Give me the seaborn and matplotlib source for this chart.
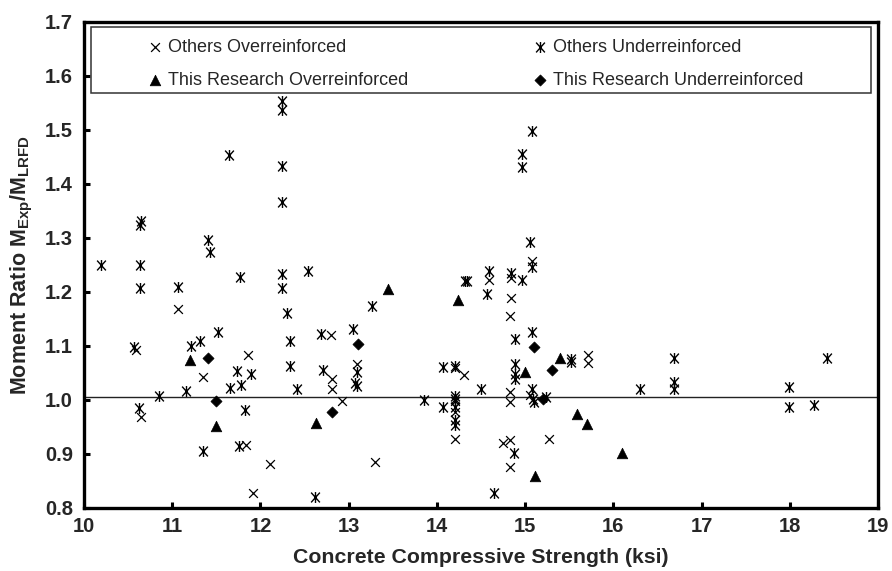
import matplotlib
matplotlib.use("Agg")
import matplotlib.pyplot as plt
import seaborn as sns
import pandas as pd
from matplotlib.path import Path
from matplotlib.patches import Rectangle

# ---------------- data ----------------
others_over_x = [11.06, 10.59, 11.86, 12.80, 13.09, 11.35, 12.81, 12.81, 12.93, 10.65,
                 11.84, 12.11, 13.30, 11.92, 14.31, 14.59, 14.84, 14.84, 14.83, 15.71,
                 15.71, 14.21, 14.83, 14.83, 15.06, 14.21, 14.21, 14.21, 15.27, 14.75,
                 14.83, 14.83, 15.08]
others_over_y = [1.167, 1.092, 1.083, 1.120, 1.066, 1.042, 1.038, 1.019, 0.997, 0.967,
                 0.916, 0.880, 0.884, 0.828, 1.046, 1.222, 1.226, 1.189, 1.155, 1.083,
                 1.068, 1.058, 1.015, 0.996, 1.008, 0.997, 0.977, 0.927, 0.928, 0.920,
                 0.926, 0.876, 1.257]

others_under_x = [10.19, 10.63, 10.63, 10.65, 10.63, 11.06, 11.40, 11.43, 11.64, 11.77,
                  12.24, 12.24, 12.24, 12.24, 12.24, 12.24, 12.54, 12.30, 13.26, 10.57,
                  11.21, 11.32, 11.52, 12.33, 12.33, 12.69, 13.05, 11.73, 11.89, 11.65,
                  11.78, 11.16, 10.85, 12.71, 12.41, 13.09, 13.07, 13.09, 10.62, 11.83,
                  11.76, 11.35, 12.62,
                  15.08, 14.96, 14.96, 15.06, 15.08, 14.32, 14.34, 14.59, 14.84, 14.96,
                  14.57, 14.88, 15.08, 15.52, 15.52, 14.88, 14.88, 14.88, 14.07, 14.20,
                  14.50, 15.08, 15.09, 15.10, 15.24, 13.85, 14.07, 14.21, 14.21, 14.21,
                  14.21, 14.21, 14.87, 14.65, 16.30, 16.69, 16.69, 16.69, 17.99, 17.99,
                  18.27, 18.42]
others_under_y = [1.249, 1.249, 1.206, 1.330, 1.323, 1.209, 1.295, 1.273, 1.452, 1.227,
                  1.552, 1.536, 1.432, 1.366, 1.233, 1.207, 1.239, 1.161, 1.173, 1.098,
                  1.099, 1.109, 1.125, 1.109, 1.063, 1.122, 1.131, 1.053, 1.047, 1.022,
                  1.027, 1.016, 1.006, 1.054, 1.019, 1.051, 1.030, 1.025, 0.985, 0.980,
                  0.915, 0.905, 0.820,
                  1.498, 1.454, 1.430, 1.292, 1.246, 1.220, 1.220, 1.238, 1.234, 1.221,
                  1.196, 1.113, 1.126, 1.075, 1.069, 1.066, 1.048, 1.039, 1.061, 1.062,
                  1.019, 1.019, 1.002, 0.996, 1.005, 0.999, 0.987, 1.006, 1.002, 0.987,
                  0.963, 0.954, 0.901, 0.828, 1.019, 1.077, 1.033, 1.019, 1.023, 0.986,
                  0.991, 1.077]

research_over_x = [11.20, 11.50, 12.63, 13.45, 14.24, 15.00, 15.11, 15.40, 15.59, 15.70, 16.10]
research_over_y = [1.073, 0.951, 0.956, 1.204, 1.185, 1.051, 0.859, 1.078, 0.974, 0.955, 0.902]

research_under_x = [11.40, 11.50, 12.81, 13.11, 15.10, 15.20, 15.30]
research_under_y = [1.078, 0.997, 0.977, 1.103, 1.097, 1.002, 1.054]

reference_ratio = 1.004

series_labels = ["Others Overreinforced", "Others Underreinforced",
                 "This Research Overreinforced", "This Research Underreinforced"]
x_ticks = [10, 11, 12, 13, 14, 15, 16, 17, 18, 19]
y_ticks = [0.8, 0.9, 1.0, 1.1, 1.2, 1.3, 1.4, 1.5, 1.6, 1.7]

# ---------------- style ----------------
sns.set_style("white")
plt.rcParams['font.family'] = ['Liberation Sans', 'DejaVu Sans']
plt.rcParams['mathtext.fontset'] = 'custom'
plt.rcParams['mathtext.rm'] = 'Liberation Sans:bold'
plt.rcParams['mathtext.it'] = 'Liberation Sans:bold'
plt.rcParams['mathtext.bf'] = 'Liberation Sans:bold'

fig = plt.figure(figsize=(8.92, 5.71), dpi=100)
ax = fig.add_axes([84 / 892, 1 - 507.7 / 571, 794 / 892, 486.2 / 571])

star_path = Path([(-0.4, -0.45), (0.4, 0.45), (-0.4, 0.45), (0.4, -0.45), (0, -0.5), (0, 0.5)],
                 [Path.MOVETO, Path.LINETO, Path.MOVETO, Path.LINETO, Path.MOVETO, Path.LINETO])

df_oo = pd.DataFrame({"x": others_over_x, "y": others_over_y})
df_ou = pd.DataFrame({"x": others_under_x, "y": others_under_y})
df_ro = pd.DataFrame({"x": research_over_x, "y": research_over_y})
df_ru = pd.DataFrame({"x": research_under_x, "y": research_under_y})

ax.axhline(reference_ratio, color="#222222", lw=1.0, zorder=1)

sns.scatterplot(data=df_oo, x="x", y="y", marker="x", s=40, color="black",
                linewidth=0.9, ax=ax, label=series_labels[0], zorder=3)
h_oo = ax.collections[-1]
sns.scatterplot(data=df_ou, x="x", y="y", marker=star_path, s=62, color="black",
                edgecolor="black", linewidth=1.0, ax=ax, label=series_labels[1], zorder=3)
h_ou = ax.collections[-1]
sns.scatterplot(data=df_ro, x="x", y="y", marker="^", s=58, color="black",
                edgecolor="black", linewidth=0.5, ax=ax, label=series_labels[2], zorder=4)
h_ro = ax.collections[-1]
sns.scatterplot(data=df_ru, x="x", y="y", marker="D", s=32, color="black",
                edgecolor="black", linewidth=0.5, ax=ax, label=series_labels[3], zorder=4)
h_ru = ax.collections[-1]

ax.set_xlim(10, 19)
ax.set_ylim(0.8, 1.7)
ax.set_xticks(x_ticks)
ax.set_yticks(y_ticks)
ax.set_xticklabels([str(t) for t in x_ticks])
ax.set_yticklabels([f"{t:.1f}" for t in y_ticks])
ax.tick_params(axis="both", direction="in", length=4.5, width=2.2, color="black",
               labelsize=14.5, bottom=True, left=True, top=False, right=False)
ax.tick_params(axis="x", pad=7)
ax.tick_params(axis="y", pad=8)
for lab in ax.get_xticklabels() + ax.get_yticklabels():
    lab.set_fontweight("bold")
for sp in ax.spines.values():
    sp.set_linewidth(2.4)
    sp.set_color("black")

ax.set_xlabel("Concrete Compressive Strength (ksi)", fontsize=15.3, fontweight="bold", labelpad=8)
ax.set_ylabel(r"Moment Ratio M$_{\mathrm{Exp}}$/M$_{\mathrm{LRFD}}$", fontsize=15.5,
              fontweight="bold", labelpad=7)

# legend frame
ax.add_patch(Rectangle((0.0084, 0.8536), 0.9828, 0.1344, transform=ax.transAxes,
                       facecolor="white", edgecolor="#333333", lw=1.1, zorder=5))
leg = ax.legend(handles=[h_oo, h_ro, h_ou, h_ru],
                labels=[series_labels[0], series_labels[2], series_labels[1], series_labels[3]],
                ncol=2, loc="upper left", bbox_to_anchor=((148 - 84) / 794, 0.9646),
                frameon=False, fontsize=13, handlelength=0.8, handletextpad=0.3,
                columnspacing=6.9, labelspacing=0.89, borderpad=0, borderaxespad=0)
leg.set_zorder(6)

fig.savefig("out.png", dpi=100)
